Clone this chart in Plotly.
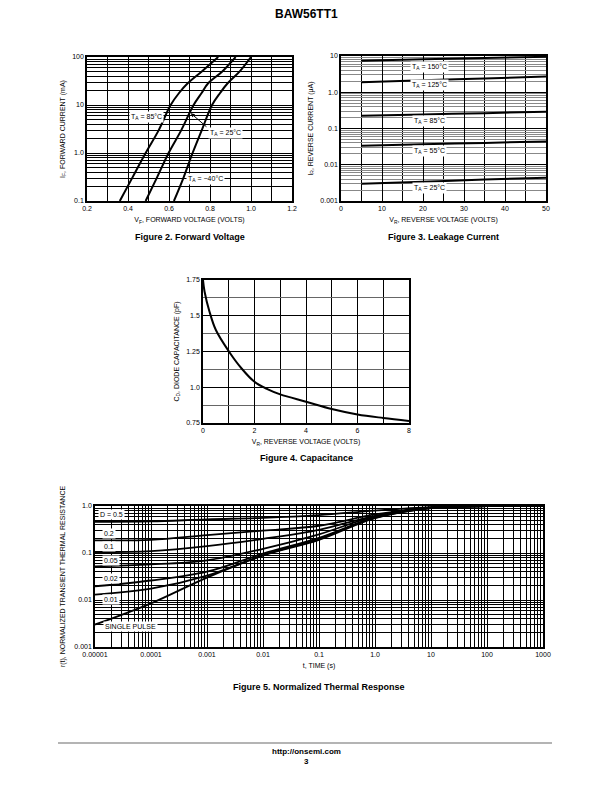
import plotly.graph_objects as go

# Figure 2 - forward voltage (VF in volts, IF in mA)
vf_85 = [0.36, 0.42, 0.486, 0.55, 0.608, 0.65, 0.69, 0.76, 0.84]
if_85 = [0.1, 0.3, 1.0, 3.0, 10, 18, 28, 50, 100]
vf_25 = [0.486, 0.54, 0.598, 0.66, 0.72, 0.76, 0.79, 0.86, 0.925]
if_25 = [0.1, 0.3, 1.0, 3.0, 10, 18, 28, 50, 100]
vf_m40 = [0.624, 0.67, 0.715, 0.76, 0.81, 0.85, 0.885, 0.945, 1.0]
if_m40 = [0.1, 0.3, 1.0, 3.0, 10, 18, 28, 50, 100]

# Figure 3 - leakage current (VR in volts, IR in uA)
vr_leak = [5, 20, 35, 50]
ir_150 = [7.4, 8.1, 8.8, 9.5]
ir_125 = [1.9, 2.15, 2.4, 2.7]
ir_85 = [0.225, 0.245, 0.265, 0.29]
ir_55 = [0.0335, 0.037, 0.040, 0.044]
ir_25 = [0.0030, 0.0034, 0.0039, 0.0044]

# Figure 4 - capacitance
vr_cap = [0, 0.06, 0.25, 0.5, 1.0, 1.5, 2.0, 2.5, 3, 4, 5, 6, 7, 8]
cd_cap = [1.75, 1.67, 1.53, 1.40, 1.252, 1.131, 1.038, 0.987, 0.95, 0.899, 0.848, 0.81, 0.785, 0.764]

# Figure 5 - normalized thermal response
t_s = [1e-5, 1e-4, 1e-3, 1e-2, 1e-1, 1, 10, 100, 1000]
r_d05 = [0.46, 0.47, 0.52, 0.56, 0.64, 0.80, 0.95, 0.99, 1.0]
r_d02 = [0.186, 0.19, 0.24, 0.30, 0.38, 0.66, 0.93, 0.99, 1.0]
r_d01 = [0.105, 0.11, 0.14, 0.20, 0.31, 0.62, 0.92, 0.99, 1.0]
r_d005 = [0.052, 0.057, 0.07, 0.123, 0.25, 0.60, 0.92, 0.99, 1.0]
r_d002 = [0.0196, 0.026, 0.04, 0.097, 0.21, 0.57, 0.91, 0.99, 1.0]
r_d001 = [0.013, 0.0174, 0.033, 0.09, 0.20, 0.56, 0.90, 0.99, 1.0]
r_single = [0.003, 0.0085, 0.03, 0.088, 0.19, 0.55, 0.90, 0.99, 1.0]

W, H = 612, 792
FONT = "Liberation Sans Narrow, Arial Narrow, Liberation Sans, Arial"


def dx(a, b):
    return [a / W, b / W]


def dy(top, bottom):
    return [1 - bottom / H, 1 - top / H]


fig = go.Figure()
line = dict(color="black", width=2)

for xs, ys in [(vf_85, if_85), (vf_25, if_25), (vf_m40, if_m40)]:
    fig.add_trace(go.Scatter(x=xs, y=ys, mode="lines", line=dict(line, shape="spline"),
                             xaxis="x", yaxis="y"))
for ys in [ir_150, ir_125, ir_85, ir_55, ir_25]:
    fig.add_trace(go.Scatter(x=vr_leak, y=ys, mode="lines", line=dict(line, shape="spline"),
                             xaxis="x2", yaxis="y2"))
fig.add_trace(go.Scatter(x=vr_cap, y=cd_cap, mode="lines", line=dict(line, shape="spline"),
                         xaxis="x3", yaxis="y3"))
for ys in [r_d05, r_d02, r_d01, r_d005, r_d002, r_d001, r_single]:
    fig.add_trace(go.Scatter(x=t_s, y=ys, mode="lines",
                             line=dict(color="black", width=1.8, shape="spline"),
                             xaxis="x4", yaxis="y4"))

tickfont = dict(family=FONT, size=7, color="black")
titlefont = dict(family=FONT, size=7, color="black")
frame = dict(showline=True, linecolor="black", linewidth=1.5, mirror=True,
             ticks="", showgrid=True, gridcolor="black", gridwidth=1, automargin=False,
             tickfont=tickfont, zeroline=False, fixedrange=True)

fig.update_layout(
    width=W, height=H, margin=dict(l=0, r=0, t=0, b=0, autoexpand=False),
    paper_bgcolor="white", plot_bgcolor="white", showlegend=False,
    # Figure 2
    xaxis=dict(frame, domain=dx(87, 292), range=[0.2, 1.2],
               tickvals=[0.2, 0.4, 0.6, 0.8, 1.0, 1.2],
               ticktext=["0.2", "0.4", "0.6", "0.8", "1.0", "1.2"],
               minor=dict(dtick=0.1, showgrid=True, gridcolor="black", gridwidth=1),
               title=dict(text="V<sub>F</sub>, FORWARD VOLTAGE (VOLTS)", font=titlefont, standoff=6),
               anchor="y"),
    yaxis=dict(frame, domain=dy(57, 201), type="log", range=[-1, 2],
               tickvals=[0.1, 1, 10, 100], ticktext=["0.1", "1.0", "10", "100"],
               minor=dict(dtick="D1", showgrid=True, gridcolor="black", gridwidth=1),
               title=dict(text="I<sub>F</sub>, FORWARD CURRENT (mA)", font=titlefont, standoff=6),
               anchor="x"),
    # Figure 3
    xaxis2=dict(frame, domain=dx(341, 546), range=[0, 50],
                tickvals=[0, 10, 20, 30, 40, 50],
                minor=dict(dtick=5, showgrid=True, gridcolor="black", gridwidth=1),
                title=dict(text="V<sub>R</sub>, REVERSE VOLTAGE (VOLTS)", font=titlefont, standoff=6),
                anchor="y2"),
    yaxis2=dict(frame, domain=dy(56, 201), type="log", range=[-3, 1],
                tickvals=[0.001, 0.01, 0.1, 1, 10],
                ticktext=["0.001", "0.01", "0.1", "1.0", "10"],
                minor=dict(dtick="D1", showgrid=True, gridcolor="#888888", gridwidth=1.2),
                title=dict(text="I<sub>R</sub>, REVERSE CURRENT (μA)", font=titlefont, standoff=6),
                anchor="x2"),
    # Figure 4
    xaxis3=dict(frame, domain=dx(203, 409), range=[0, 8],
                tickvals=[0, 2, 4, 6, 8],
                minor=dict(dtick=1, showgrid=True, gridcolor="black", gridwidth=1),
                title=dict(text="V<sub>R</sub>, REVERSE VOLTAGE (VOLTS)", font=titlefont, standoff=6),
                anchor="y3"),
    yaxis3=dict(frame, domain=dy(280, 423), range=[0.75, 1.75],
                tickvals=[0.75, 1.0, 1.25, 1.5, 1.75],
                ticktext=["0.75", "1.0", "1.25", "1.5", "1.75"],
                minor=dict(dtick=0.125, showgrid=True, gridcolor="#666666", gridwidth=1),
                title=dict(text="C<sub>D</sub>, DIODE CAPACITANCE (pF)", font=titlefont, standoff=6),
                anchor="x3"),
    # Figure 5
    xaxis4=dict(frame, domain=dx(95, 543), type="log", range=[-5, 3],
                tickvals=t_s,
                ticktext=["0.00001", "0.0001", "0.001", "0.01", "0.1", "1.0", "10", "100", "1000"],
                minor=dict(dtick="D1", showgrid=True, gridcolor="black", gridwidth=1),
                title=dict(text="t, TIME (s)", font=titlefont, standoff=6),
                anchor="y4"),
    yaxis4=dict(frame, domain=dy(506, 647), type="log", range=[-3, 0],
                tickvals=[0.001, 0.01, 0.1, 1],
                ticktext=["0.001", "0.01", "0.1", "1.0"],
                minor=dict(dtick="D1", showgrid=True, gridcolor="black", gridwidth=1),
                title=dict(text="r(t), NORMALIZED TRANSIENT THERMAL RESISTANCE", font=titlefont, standoff=8),
                anchor="x4"),
)

lab = dict(font=dict(family=FONT, size=7, color="black"), bgcolor="white",
           showarrow=False, borderpad=1, yanchor="middle")

# curve labels, figure 2
fig.add_annotation(lab, x=0.488, y=0.75, xref="x", yref="y", xanchor="center", text="T<sub>A</sub> = 85°C")
fig.add_annotation(lab, x=0.878, y=0.42, xref="x", yref="y", xanchor="center", text="T<sub>A</sub> = 25°C")
fig.add_annotation(lab, x=0.776, y=-0.54, xref="x", yref="y", xanchor="center", text="T<sub>A</sub> = −40°C")
fig.add_annotation(x=0.706, y=0.83, xref="x", yref="y", ax=0.79, ay=0.52,
                   axref="x", ayref="y", text="", showarrow=True,
                   arrowhead=2, arrowsize=0.8, arrowwidth=1, arrowcolor="black")

# curve labels, figure 3
for txt, yy in [("150", 0.70), ("125", 0.20), ("85", -0.79), ("55", -1.62), ("25", -2.64)]:
    fig.add_annotation(lab, x=21.5, y=yy, xref="x2", yref="y2", xanchor="center",
                       text="T<sub>A</sub> = " + txt + "°C")

# curve labels, figure 5
for txt, xx, yy in [("D = 0.5", -4.955, -0.177), ("0.2", -4.88, -0.589), ("0.1", -4.88, -0.858),
                    ("0.05", -4.88, -1.156), ("0.02", -4.88, -1.546), ("0.01", -4.88, -1.986),
                    ("SINGLE PULSE", -4.86, -2.56)]:
    fig.add_annotation(lab, x=xx, y=yy, xref="x4", yref="y4", xanchor="left", text=txt)

# page text
cap = dict(family="Liberation Sans, Arial", size=9, color="black")
page = [("<b>BAW56TT1</b>", 306, 14, 12),
        ("<b>Figure 2. Forward Voltage</b>", 189.5, 237, 9),
        ("<b>Figure 3. Leakage Current</b>", 443.5, 237, 9),
        ("<b>Figure 4. Capacitance</b>", 306, 458, 9),
        ("<b>Figure 5. Normalized Thermal Response</b>", 319, 687, 9),
        ("<b>http://onsemi.com</b>", 306, 751, 8),
        ("<b>3</b>", 306, 761, 8)]
for txt, px, py, sz in page:
    fig.add_annotation(x=px / W, y=1 - py / H, xref="paper", yref="paper", text=txt,
                       xanchor="center", yanchor="middle",
                       showarrow=False, font=dict(cap, size=sz))

fig.add_shape(type="line", xref="paper", yref="paper", x0=58 / W, x1=552 / W,
              y0=1 - 743 / H, y1=1 - 743 / H, line=dict(color="#b4b4b4", width=2))

fig.write_html("out.html", config={"displayModeBar": False},
               post_script="document.body.style.margin='0';")
